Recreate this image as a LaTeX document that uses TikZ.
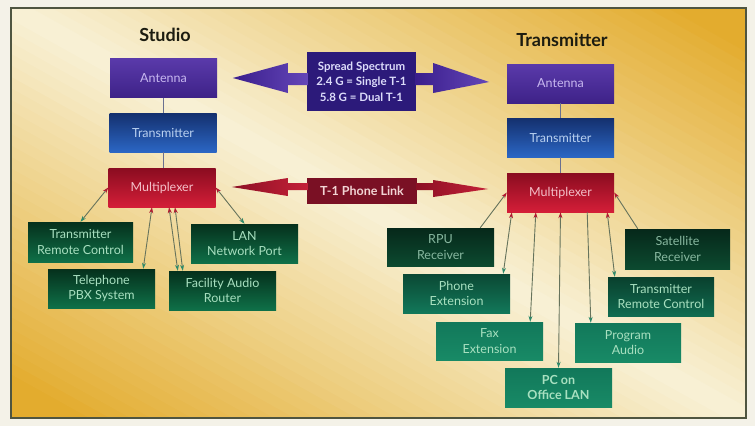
\documentclass[tikz,border=0pt]{standalone}
\usepackage{fontspec}
\setmainfont{Lato}
\usetikzlibrary{arrows.meta,calc}
\definecolor{pagebg}{HTML}{F4F2E8}
\definecolor{gold}{HTML}{E3AC2E}
\definecolor{cream}{HTML}{F8F1D6}
\definecolor{framec}{HTML}{4F5540}
\definecolor{titlec}{HTML}{1C1C10}
\definecolor{antTop}{HTML}{5A3AAA}
\definecolor{antBot}{HTML}{3E2288}
\definecolor{antTxt}{HTML}{C8B8F0}
\definecolor{txTop}{HTML}{14306E}
\definecolor{txBot}{HTML}{2B66C4}
\definecolor{txTxt}{HTML}{B8D0F0}
\definecolor{muxTop}{HTML}{8A0C20}
\definecolor{muxBot}{HTML}{D41E38}
\definecolor{muxTxt}{HTML}{F4C0C8}
\definecolor{grTop}{HTML}{05301C}
\definecolor{grBot}{HTML}{0F7048}
\definecolor{grTxt}{HTML}{A8E0C0}
\definecolor{dkTop}{HTML}{06281A}
\definecolor{dkBot}{HTML}{0C4A30}
\definecolor{dkTxt}{HTML}{88B8A0}
\definecolor{ltTop}{HTML}{12785A}
\definecolor{ltBot}{HTML}{188A66}
\definecolor{spreadc}{HTML}{2C1A7A}
\definecolor{spreadTxt}{HTML}{DCDCFA}
\definecolor{t1c}{HTML}{7A1024}
\definecolor{t1Txt}{HTML}{F2D4D4}
\definecolor{linkc}{HTML}{66735C}
\definecolor{vlinkc}{HTML}{6A7090}
\definecolor{tipred}{HTML}{B01830}
\definecolor{tipgreen}{HTML}{2A8A6A}
\definecolor{purpA}{HTML}{3A1E8C}
\definecolor{purpB}{HTML}{6446B8}
\definecolor{redA}{HTML}{8C1024}
\definecolor{redB}{HTML}{C42038}
\tikzset{
  box/.style={rectangle, inner sep=0pt, minimum width=107pt, minimum height=39pt,
    align=center, font=\fontsize{12.5}{15.5}\selectfont},
  antbox/.style={box, top color=antTop, bottom color=antBot, text=antTxt},
  txbox/.style={box, top color=txTop, bottom color=txBot, text=txTxt},
  muxbox/.style={box, top color=muxTop, bottom color=muxBot, text=muxTxt},
  grbox/.style={box, top color=grTop, bottom color=grBot, text=grTxt},
  dkbox/.style={box, top color=dkTop, bottom color=dkBot, text=dkTxt},
  ltbox/.style={box, top color=ltTop, bottom color=ltBot, text=grTxt},
  titletext/.style={font=\fontsize{18}{20}\selectfont\bfseries, text=titlec},
  vlink/.style={draw=vlinkc, line width=1pt},
  link/.style={draw=linkc, line width=0.9pt},
  dbl/.style={link, arrows={Stealth[length=6pt,width=4pt,color=tipred]-Stealth[length=6pt,width=4pt,color=tipgreen]}},
  tomux/.style={link, arrows={Stealth[length=6pt,width=4pt,color=tipred]-}},
  frommux/.style={link, arrows={-Stealth[length=6pt,width=4pt,color=tipgreen]}},
  purparrow/.style={left color=purpA, right color=purpB},
  redarrow/.style={left color=redA, right color=redB}
}
\begin{document}
\begin{tikzpicture}[x=1pt,y=-1pt]
\useasboundingbox (0,0) rectangle (755,426);
\fill[pagebg] (0,0) rectangle (755,426);
\begin{scope}
  \clip (11,8) rectangle (746,418);
  \foreach \i in {0,...,71}{
    \pgfmathsetmacro\sa{-360+10*\i}
    \pgfmathsetmacro\sb{\sa+10.6}
    \pgfmathtruncatemacro\gf{min(100,0.308*abs(\sa+5))}
    \fill[gold!\gf!cream]
      ({378.5+0.487*\sa-436.5},{213-0.873*\sa-243.5}) --
      ({378.5+0.487*\sa+436.5},{213-0.873*\sa+243.5}) --
      ({378.5+0.487*\sb+436.5},{213-0.873*\sb+243.5}) --
      ({378.5+0.487*\sb-436.5},{213-0.873*\sb-243.5}) -- cycle;
  }
\end{scope}
\draw[framec, line width=1.5pt] (11,8) rectangle (746,418);

% titles
\node[titletext] (tStudio) at (165,35) {Studio};
\node[titletext] (tTrans) at (562,40) {Transmitter};

% studio column
\node[antbox] (sAnt) at (163.5,78) {Antenna};
\node[txbox] (sTx) at (163,132.5) {Transmitter};
\node[muxbox] (sMux) at (162,187.5) {Multiplexer};
\node[grbox, minimum width=105pt, minimum height=40pt] (sTRC) at (80.5,242) {Transmitter\\Remote Control};
\node[grbox] (sLAN) at (244.5,243.5) {LAN\\Network Port};
\node[grbox] (sPBX) at (101.5,288.5) {Telephone\\PBX System};
\node[grbox] (sRouter) at (222.5,290.5) {Facility Audio\\Router};

% middle links
\node[rectangle, fill=spreadc, minimum width=109pt, minimum height=59pt, inner sep=0pt,
  align=center, text=spreadTxt, font=\fontsize{11.5}{15.5}\selectfont\bfseries] (spread) at (361.5,81.5)
  {Spread Spectrum\\2.4 G = Single T-1\\5.8 G = Dual T-1};
\node[rectangle, fill=t1c, minimum width=110pt, minimum height=26pt, inner sep=0pt,
  text=t1Txt, font=\fontsize{12.5}{14}\selectfont\bfseries] (t1) at (362,191) {T-1 Phone Link};

\begin{scope}[shift={(spread.west)}]
  \shade[purparrow] (1,-8.5) -- (-19,-8.5) -- (-19,-18.5) -- (-74,-3.5) -- (-19,11.5) -- (-19,3.5) -- (1,3.5) -- cycle;
\end{scope}
\begin{scope}[shift={(spread.east)}]
  \shade[purparrow] (-1,-8.5) -- (17,-8.5) -- (17,-18.5) -- (73,0.5) -- (17,11.5) -- (17,3.5) -- (-1,3.5) -- cycle;
\end{scope}
\begin{scope}[shift={(t1.west)}]
  \shade[redarrow] (1,-8) -- (-19,-8) -- (-19,-13) -- (-75,-4) -- (-19,5) -- (-19,-1) -- (1,-1) -- cycle;
\end{scope}
\begin{scope}[shift={(t1.east)}]
  \shade[redarrow] (-1,-8) -- (16,-8) -- (16,-11) -- (71,-2) -- (16,6) -- (16,-1) -- (-1,-1) -- cycle;
\end{scope}

% transmitter column
\node[antbox] (tAnt) at (560.5,83.5) {Antenna};
\node[txbox] (tTx) at (560.5,137.5) {Transmitter};
\node[muxbox] (tMux) at (560.5,192.5) {Multiplexer};
\node[dkbox, minimum height=38pt] (rpu) at (440.5,247) {RPU\\Receiver};
\node[grbox, top color=dkTop!60!ltTop, bottom color=ltTop] (phone) at (456.5,293.5) {Phone\\Extension};
\node[ltbox, minimum height=38pt] (fax) at (489.5,341) {Fax\\Extension};
\node[ltbox] (pc) at (558.5,387.5) {\textbf{PC on}\\\textbf{Office LAN}};
\node[ltbox, minimum width=106pt] (paudio) at (628,342.5) {Program\\Audio};
\node[grbox, minimum width=106pt, top color=dkTop!70!ltTop, bottom color=ltTop!90!black] (tTRC) at (661,296.5) {Transmitter\\Remote Control};
\node[dkbox, minimum width=105pt, minimum height=40pt] (sat) at (677.5,249) {Satellite\\Receiver};

% vertical chain links
\draw[vlink] (sAnt.south) -- (sAnt.south |- sTx.north);
\draw[vlink] (sTx.south) -- (sTx.south |- sMux.north);
\draw[vlink] (tAnt.south) -- (tTx.north);
\draw[vlink] (tTx.south) -- (tMux.north);

% studio multiplexer connectors
\draw[dbl] (sMux.west) -- (sTRC.north);
\draw[dbl] (sMux.east) -- (sLAN.north);
\draw[dbl] ($(sMux.south)+(-10,0)$) -- ($(sPBX.north east)+(-12,0)$);
\draw[dbl] ($(sMux.south)+(7,0)$) -- ($(sRouter.north west)+(9,0)$);
\draw[dbl] ($(sMux.south)+(13,0)$) -- ($(sRouter.north west)+(14,0)$);

% transmitter multiplexer connectors
\draw[tomux] (tMux.west) -- ($(rpu.north east)+(-14,0)$);
\draw[tomux] (tMux.east) -- ($(sat.north west)+(13,0)$);
\draw[dbl] ($(tMux.south west)+(5,0)$) -- ($(phone.north east)+(-7,0)$);
\draw[dbl] ($(tMux.south west)+(29,0)$) -- ($(fax.north east)+(-13,0)$);
\draw[dbl] (tMux.south) -- (pc.north);
\draw[frommux] ($(tMux.south east)+(-27,0)$) -- ($(paudio.north west)+(16,0)$);
\draw[dbl] ($(tMux.south east)+(-7,0)$) -- ($(tTRC.north west)+(7,0)$);
\end{tikzpicture}
\end{document}
